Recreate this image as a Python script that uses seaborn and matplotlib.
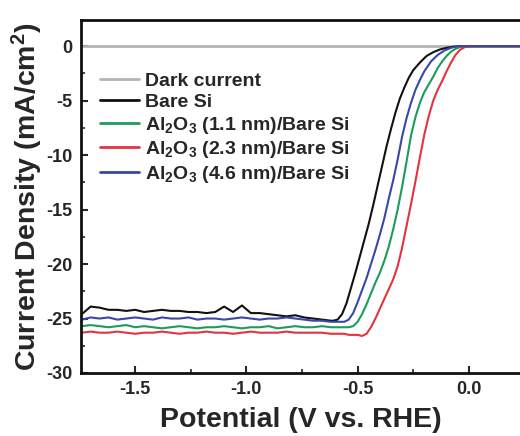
import numpy as np
import pandas as pd
import matplotlib
matplotlib.use("Agg")
import matplotlib.pyplot as plt
import seaborn as sns
from matplotlib.ticker import MultipleLocator

# ---------------- data ----------------
plateau_v = [-1.74, -1.70, -1.66, -1.62, -1.58, -1.54, -1.50, -1.46, -1.42, -1.38,
             -1.34, -1.30, -1.26, -1.22, -1.18, -1.14, -1.10, -1.06, -1.02, -0.98,
             -0.94, -0.90, -0.86, -0.82, -0.78, -0.74, -0.70, -0.66, -0.62]

bare_plateau_j = [-24.6, -23.9, -24.0, -24.2, -24.2, -24.3, -24.2, -24.4, -24.3, -24.2,
                  -24.3, -24.3, -24.4, -24.4, -24.5, -24.4, -23.9, -24.4, -23.8, -24.5,
                  -24.5, -24.6, -24.7, -24.8, -24.7, -24.9, -25.0, -25.1, -25.2]
al11_plateau_j = [-25.7, -25.6, -25.7, -25.8, -25.7, -25.6, -25.8, -25.7, -25.8, -25.9,
                  -25.8, -25.7, -25.8, -25.9, -25.8, -25.8, -25.7, -25.8, -25.9, -25.8,
                  -25.8, -25.7, -25.9, -25.8, -25.7, -25.8, -25.8, -25.7, -25.8]
al23_plateau_j = [-26.3, -26.2, -26.3, -26.3, -26.2, -26.3, -26.4, -26.3, -26.3, -26.2,
                  -26.3, -26.4, -26.3, -26.3, -26.2, -26.3, -26.3, -26.4, -26.3, -26.2,
                  -26.3, -26.3, -26.3, -26.2, -26.3, -26.3, -26.3, -26.3, -26.4]
al46_plateau_j = [-25.1, -24.9, -25.0, -24.9, -25.1, -25.0, -24.9, -25.0, -25.1, -24.9,
                  -25.0, -25.0, -24.9, -25.1, -25.0, -25.0, -25.1, -25.0, -24.9, -25.0,
                  -25.1, -25.0, -25.0, -24.9, -25.0, -25.1, -25.2, -25.2, -25.3]

bare_rise_v = [-0.61, -0.59, -0.57, -0.55, -0.53, -0.51, -0.49, -0.47, -0.45, -0.43,
               -0.41, -0.39, -0.37, -0.35, -0.33, -0.31, -0.29, -0.27, -0.25, -0.22,
               -0.19, -0.16, -0.13, -0.10, -0.07, -0.04, 0.05, 0.15, 0.23]
bare_rise_j = [-25.2, -25.1, -24.6, -23.6, -22.2, -20.8, -19.3, -17.8, -16.3, -14.6,
               -12.8, -11.0, -9.2, -7.6, -6.1, -4.8, -3.8, -2.9, -2.2, -1.5,
               -0.9, -0.55, -0.3, -0.15, -0.05, 0.0, 0.0, 0.0, 0.0]

al11_rise_v = [-0.58, -0.56, -0.54, -0.52, -0.50, -0.48, -0.46, -0.44, -0.42, -0.40,
               -0.38, -0.36, -0.34, -0.32, -0.30, -0.28, -0.26, -0.24, -0.22, -0.20,
               -0.18, -0.16, -0.14, -0.12, -0.10, -0.08, -0.06, -0.04, -0.02, 0.05,
               0.15, 0.23]
al11_rise_j = [-25.8, -25.8, -25.8, -25.7, -25.3, -24.6, -23.7, -22.7, -21.7, -20.8,
               -19.7, -18.4, -16.8, -15.0, -12.9, -10.6, -8.2, -6.5, -5.2, -4.2,
               -3.5, -2.8, -2.0, -1.4, -0.9, -0.5, -0.25, -0.08, 0.0, 0.0,
               0.0, 0.0]

al23_rise_v = [-0.58, -0.56, -0.54, -0.52, -0.50, -0.48, -0.46, -0.44, -0.42, -0.40,
               -0.38, -0.36, -0.34, -0.32, -0.30, -0.28, -0.26, -0.24, -0.22, -0.20,
               -0.18, -0.16, -0.14, -0.12, -0.10, -0.08, -0.06, -0.04, -0.02, 0.0,
               0.05, 0.15, 0.23]
al23_rise_j = [-26.4, -26.4, -26.5, -26.5, -26.5, -26.6, -26.4, -25.8, -25.0, -24.1,
               -23.2, -22.3, -21.4, -20.2, -18.5, -16.5, -14.5, -12.4, -10.2, -8.1,
               -6.4, -5.0, -4.0, -3.2, -2.3, -1.5, -0.8, -0.35, -0.1, 0.0,
               0.0, 0.0, 0.0]

al46_rise_v = [-0.58, -0.56, -0.54, -0.52, -0.50, -0.48, -0.46, -0.44, -0.42, -0.40,
               -0.38, -0.36, -0.34, -0.32, -0.30, -0.28, -0.26, -0.24, -0.22, -0.20,
               -0.17, -0.14, -0.11, -0.08, -0.05, 0.05, 0.15, 0.23]
al46_rise_j = [-25.3, -25.3, -25.1, -24.5, -23.5, -22.4, -21.3, -20.0, -18.7, -17.3,
               -15.8, -14.0, -12.3, -10.4, -8.3, -6.6, -5.2, -4.0, -3.1, -2.3,
               -1.4, -0.8, -0.4, -0.15, 0.0, 0.0, 0.0, 0.0]

dark_v = [-1.74, -1.0, -0.5, 0.0, 0.23]
dark_j = [0.0, 0.0, 0.0, 0.0, 0.0]

labels = ["Dark current", "Bare Si",
          r"Al$_2$O$_3$ (1.1 nm)/Bare Si",
          r"Al$_2$O$_3$ (2.3 nm)/Bare Si",
          r"Al$_2$O$_3$ (4.6 nm)/Bare Si"]
colors = ["#b4b4b4", "#111111", "#1c9c5c", "#e5323f", "#3848a6"]

x_ticks = [-1.5, -1.0, -0.5, 0.0]
y_ticks = [0, -5, -10, -15, -20, -25, -30]

# ---------------- build long table ----------------
series = [
    (labels[0], dark_v, dark_j),
    (labels[1], plateau_v + bare_rise_v, bare_plateau_j + bare_rise_j),
    (labels[2], plateau_v + al11_rise_v, al11_plateau_j + al11_rise_j),
    (labels[3], plateau_v + al23_rise_v, al23_plateau_j + al23_rise_j),
    (labels[4], plateau_v + al46_rise_v, al46_plateau_j + al46_rise_j),
]
rows = []
for name, vs, js in series:
    for v, j in zip(vs, js):
        rows.append({"series": name, "V": v, "J": j})
df = pd.DataFrame(rows)

# ---------------- style ----------------
sns.set_style("ticks")
plt.rcParams["font.family"] = ["Liberation Sans", "DejaVu Sans"]
plt.rcParams["font.weight"] = "bold"
plt.rcParams["mathtext.default"] = "regular"
plt.rcParams["axes.unicode_minus"] = False

fig = plt.figure(figsize=(5.2, 4.36), dpi=100)
ax = fig.add_axes([0.156, 0.1445, 0.844, 0.8095])

sns.lineplot(data=df, x="V", y="J", hue="series", hue_order=labels,
             palette=dict(zip(labels, colors)), sort=False, estimator=None,
             linewidth=1.5, ax=ax)
ax.get_lines()[0].set_linewidth(2.0)

ax.set_xlim(-1.743, 0.23)
ax.set_ylim(-30, 2.4)
ax.set_xticks(x_ticks)
ax.set_xticklabels([f"{t:.1f}" for t in x_ticks])
ax.set_yticks(y_ticks)
ax.set_yticklabels([str(t) for t in y_ticks])
ax.xaxis.set_minor_locator(MultipleLocator(0.25))
ax.yaxis.set_minor_locator(MultipleLocator(2.5))
ax.tick_params(which="major", direction="in", length=5, width=1.5,
               labelsize=13, pad=6, top=False, right=False)
ax.tick_params(which="minor", direction="in", length=3, width=1.2,
               top=False, right=False)
for lab in ax.get_xticklabels() + ax.get_yticklabels():
    lab.set_fontweight("bold")

for s in ["left", "bottom", "top"]:
    ax.spines[s].set_linewidth(2.0)
    ax.spines[s].set_color("#111111")
ax.spines["right"].set_visible(False)

ax.set_xlabel("Potential (V vs. RHE)", fontsize=20.5, fontweight="bold", labelpad=6)
ax.set_ylabel("Current Density (mA/cm$^2$)", fontsize=20.5, fontweight="bold", labelpad=1)

leg = ax.legend(loc="upper left", bbox_to_anchor=(0.043, 0.853), frameon=False,
                fontsize=14, handlelength=2.0, handletextpad=0.3,
                labelspacing=0.19, borderpad=0, borderaxespad=0)
for h in leg.get_lines():
    h.set_linewidth(2.0)
for t in leg.get_texts():
    t.set_fontweight("bold")

fig.savefig("out.png", dpi=100)
